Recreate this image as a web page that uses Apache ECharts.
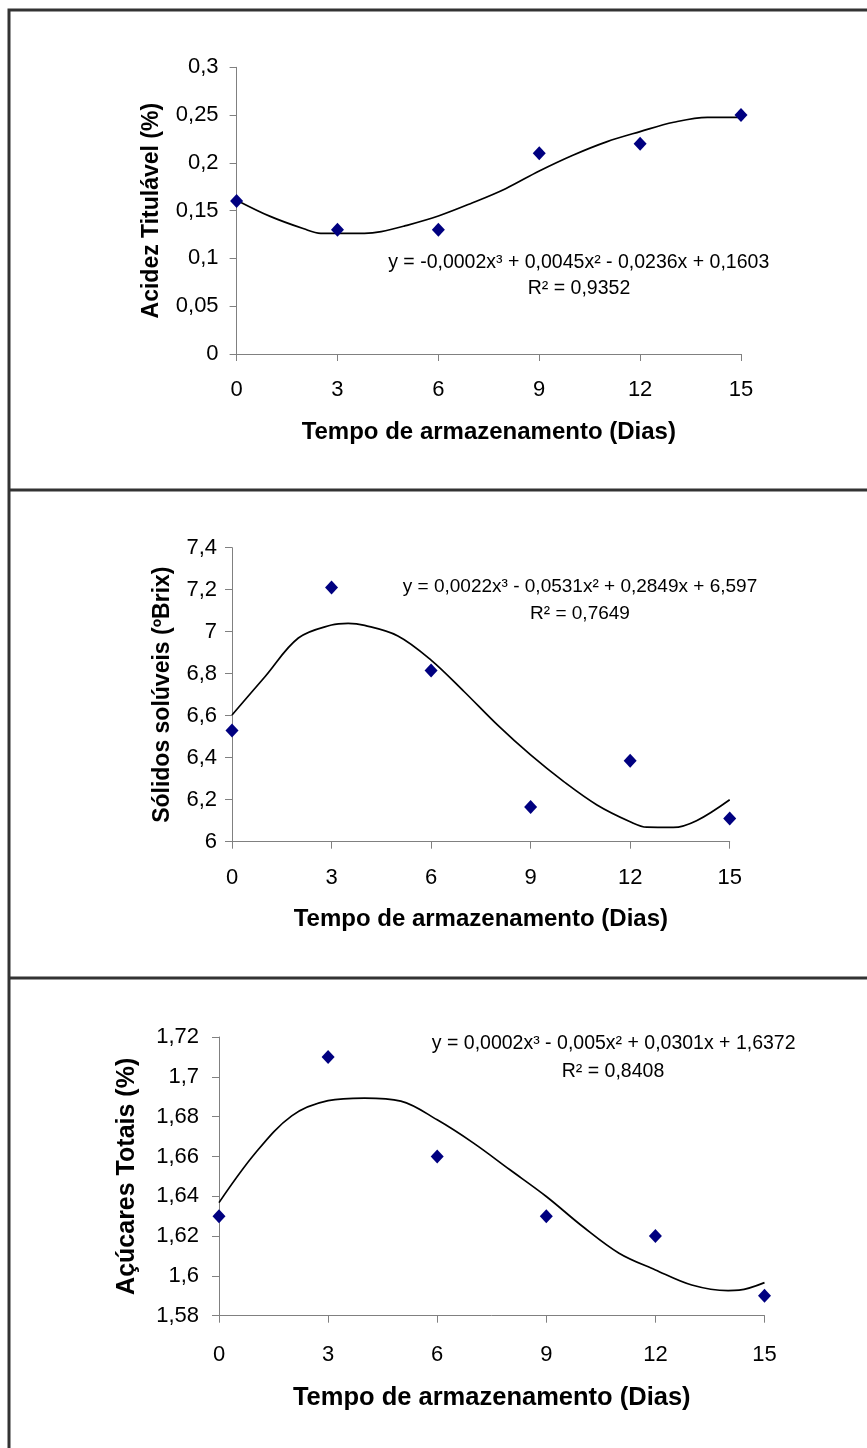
<!DOCTYPE html>
<html>
<head>
<meta charset="utf-8">
<script src="https://cdn.jsdelivr.net/npm/echarts@6/dist/echarts.min.js"></script>
<style>
html,body{margin:0;padding:0;background:#fff;}
#chart{width:867px;height:1448px;}
</style>
</head>
<body>
<div id="chart"></div>
<script>
// ---- data ----
var days = [0, 3, 6, 9, 12, 15];
var xTicks = [0, 3, 6, 9, 12, 15];

var acidez = [0.16, 0.13, 0.13, 0.21, 0.22, 0.25];
var trend1X = [0, 1, 2, 2.5, 3, 3.8, 4.3, 5, 6, 7, 8, 9, 10, 11, 12, 13, 14, 15];
var trend1Y = [0.161, 0.144, 0.131, 0.1263, 0.1263, 0.1263, 0.128, 0.134, 0.1444, 0.158, 0.173, 0.1915, 0.208, 0.222, 0.2327, 0.2425, 0.2477, 0.2477];
var yTicks1 = [0, 0.05, 0.1, 0.15, 0.2, 0.25, 0.3];

var solidos = [6.53, 7.21, 6.815, 6.165, 6.385, 6.11];
var trend2X = [0, 1, 2, 3, 3.5, 4, 5, 6, 7, 8, 9, 10, 11, 12, 12.5, 13.3, 14, 15];
var trend2Y = [6.603, 6.787, 6.97, 7.032, 7.04, 7.03, 6.98, 6.865, 6.714, 6.556, 6.413, 6.286, 6.175, 6.095, 6.069, 6.068, 6.1, 6.2];
var yTicks2 = [6, 6.2, 6.4, 6.6, 6.8, 7, 7.2, 7.4];

var acucares = [1.63, 1.71, 1.66, 1.63, 1.62, 1.59];
var trend3X = [0, 1, 2, 3, 4, 5, 6, 7, 8, 9, 10, 11, 12, 13, 14, 14.3, 15];
var trend3Y = [1.6368, 1.6617, 1.6804, 1.688, 1.6893, 1.6878, 1.6784, 1.6667, 1.6533, 1.6399, 1.6248, 1.6114, 1.603, 1.5954, 1.5926, 1.5928, 1.5966];
var yTicks3 = [1.58, 1.6, 1.62, 1.64, 1.66, 1.68, 1.7, 1.72];

var yTitles = ['Acidez Titulável (%)', 'Sólidos solúveis (ºBrix)', 'Açúcares Totais (%)'];
var xTitle = 'Tempo de armazenamento (Dias)';
var equations = [
  ['y = -0,0002x³ + 0,0045x² - 0,0236x + 0,1603', 'R² = 0,9352'],
  ['y = 0,0022x³ - 0,0531x² + 0,2849x + 6,597', 'R² = 0,7649'],
  ['y = 0,0002x³ - 0,005x² + 0,0301x + 1,6372', 'R² = 0,8408']
];

// ---- helpers ----
var FONT = '"Liberation Sans", Arial, sans-serif';
function fmt(v) { return String(+(+v).toFixed(4)).replace('.', ','); }
function pairs(xs, ys) { return xs.map(function (x, i) { return [x, ys[i]]; }); }

var grids = [
  {left: 236.6, top: 67.3, width: 504.4, height: 286.7},
  {left: 232, top: 547.7, width: 497.7, height: 294},
  {left: 219, top: 1037, width: 545.5, height: 278.7}
];
var yTickSets = [yTicks1, yTicks2, yTicks3];
var yLabelMargin = [18, 15, 20];
var xLabelMargin = [25, 25, 28];
var yNameGap = [73, 58, 79];
var yNameSize = [23, 23, 25];
var xNameGap = [66, 66, 69];
var xNameSize = [24, 24, 25.5];
var eqSize = [19.5, 19, 19.5];

var axisLine = {show: true, lineStyle: {color: '#808080', width: 1}};
var axisTick = {show: true, inside: false, length: 7, lineStyle: {color: '#808080', width: 1}};

var xAxes = [], yAxes = [];
for (var i = 0; i < 3; i++) {
  var yt = yTickSets[i];
  var step = +(yt[1] - yt[0]).toFixed(4);
  xAxes.push({
    gridIndex: i, type: 'value', min: xTicks[0], max: xTicks[xTicks.length - 1], interval: xTicks[1] - xTicks[0],
    axisLine: axisLine, axisTick: axisTick, splitLine: {show: false},
    axisLabel: {margin: xLabelMargin[i], fontFamily: FONT, fontSize: 22, color: '#000', formatter: fmt},
    name: xTitle, nameLocation: 'middle', nameGap: xNameGap[i],
    nameTextStyle: {fontFamily: FONT, fontSize: xNameSize[i], fontWeight: 'bold', color: '#000'}
  });
  yAxes.push({
    gridIndex: i, type: 'value', min: yt[0], max: yt[yt.length - 1], interval: step,
    axisLine: axisLine, axisTick: axisTick, splitLine: {show: false},
    axisLabel: {margin: yLabelMargin[i], fontFamily: FONT, fontSize: 22, color: '#000', formatter: fmt},
    name: yTitles[i], nameLocation: 'middle', nameGap: yNameGap[i], nameRotate: 90,
    nameTextStyle: {fontFamily: FONT, fontSize: yNameSize[i], fontWeight: 'bold', color: '#000'}
  });
}

var pointSets = [acidez, solidos, acucares];
var trendSets = [[trend1X, trend1Y], [trend2X, trend2Y], [trend3X, trend3Y]];
var series = [];
for (var j = 0; j < 3; j++) {
  series.push({
    type: 'line', xAxisIndex: j, yAxisIndex: j,
    data: pairs(trendSets[j][0], trendSets[j][1]),
    showSymbol: false, symbol: 'none', smooth: 0.35,
    lineStyle: {color: '#000', width: 1.7}, silent: true, z: 2
  });
  series.push({
    type: 'scatter', xAxisIndex: j, yAxisIndex: j,
    data: pairs(days, pointSets[j]),
    symbol: 'diamond', symbolSize: [13, 14],
    itemStyle: {color: '#000080', opacity: 1}, z: 3
  });
}

var eqPos = [
  [[578.7, 262.7], [579, 289]],
  [[580, 587], [580, 614]],
  [[613.7, 1044], [613, 1071.7]]
];
var graphics = [
  {type: 'rect', shape: {x: 9, y: 10, width: 870, height: 1450}, style: {fill: 'none', stroke: '#333', lineWidth: 3}, silent: true},
  {type: 'line', shape: {x1: 9, y1: 490, x2: 870, y2: 490}, style: {stroke: '#333', lineWidth: 3}, silent: true},
  {type: 'line', shape: {x1: 9, y1: 978, x2: 870, y2: 978}, style: {stroke: '#333', lineWidth: 3}, silent: true}
];
for (var k = 0; k < 3; k++) {
  for (var m = 0; m < 2; m++) {
    graphics.push({
      type: 'text', x: eqPos[k][m][0], y: eqPos[k][m][1],
      style: {text: equations[k][m], font: eqSize[k] + 'px ' + FONT, fill: '#000', textAlign: 'center', textVerticalAlign: 'middle'},
      silent: true
    });
  }
}

var chart = echarts.init(document.getElementById('chart'), null, {renderer: 'canvas'});
chart.setOption({
  animation: false,
  backgroundColor: '#fff',
  grid: grids,
  xAxis: xAxes,
  yAxis: yAxes,
  series: series,
  graphic: graphics
});
</script>
</body>
</html>
